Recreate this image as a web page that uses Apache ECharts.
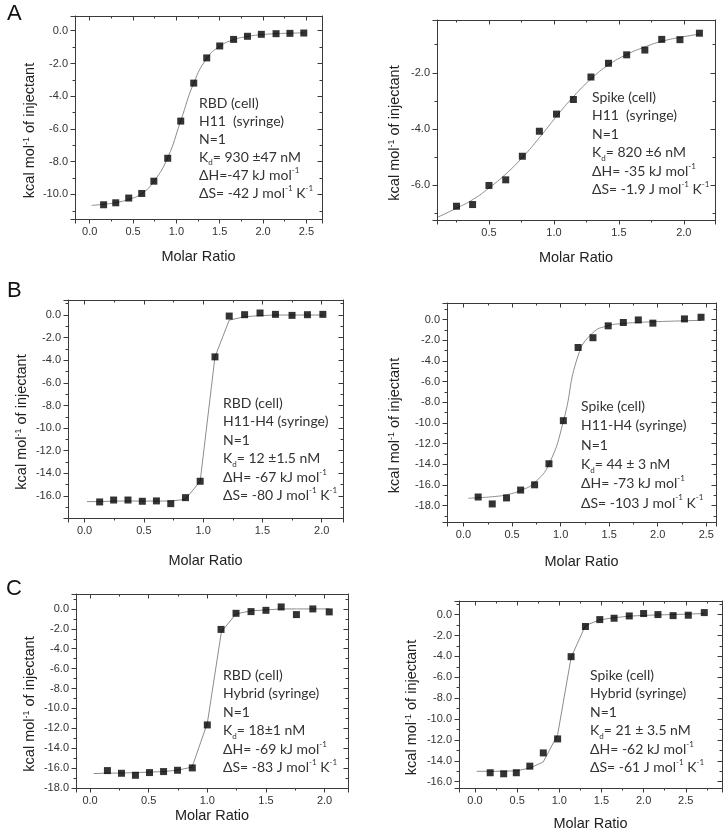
<!DOCTYPE html>
<html>
<head>
<meta charset="utf-8">
<script src="https://cdn.jsdelivr.net/npm/echarts@6/dist/echarts.min.js"></script>
<style>
  html, body { margin: 0; background: #fff; }
  #chart { width: 724px; height: 832px; }
</style>
</head>
<body>
<div id="chart"></div>
<script>
// ---- A 左: RBD (cell) / H11 (syringe) ----
const aLeftX = [0.16, 0.30, 0.45, 0.60, 0.74, 0.90, 1.05, 1.20, 1.35, 1.50, 1.66, 1.82, 1.98, 2.15, 2.31, 2.47]
const aLeftY = [-10.63, -10.51, -10.22, -9.94, -9.19, -7.79, -5.52, -3.20, -1.66, -0.93, -0.53, -0.34, -0.22, -0.18, -0.16, -0.14]
const aLeftFitX = [0.02, 0.16, 0.30, 0.45, 0.60, 0.74, 0.90, 1.05, 1.20, 1.35, 1.50, 1.66, 1.82, 1.98, 2.15, 2.31, 2.47]
const aLeftFitY = [-10.67, -10.6, -10.5, -10.3, -9.95, -9.2, -7.75, -5.5, -3.2, -1.7, -0.95, -0.55, -0.35, -0.24, -0.18, -0.15, -0.13]
const aLeftXRange = [-0.17, 2.68]
const aLeftYRange = [-11.5, 0.9]

// ---- A 右: Spike (cell) / H11 (syringe) ----
const aRightX = [0.25, 0.374, 0.50, 0.629, 0.757, 0.888, 1.02, 1.15, 1.285, 1.42, 1.56, 1.70, 1.83, 1.97, 2.12]
const aRightY = [-6.75, -6.69, -6.01, -5.81, -4.97, -4.08, -3.47, -2.95, -2.15, -1.66, -1.36, -1.19, -0.81, -0.82, -0.59]
const aRightFitX = [0.10, 0.25, 0.38, 0.50, 0.63, 0.76, 0.89, 1.02, 1.15, 1.29, 1.42, 1.56, 1.70, 1.83, 1.97, 2.12]
const aRightFitY = [-7.15, -6.82, -6.5, -6.1, -5.6, -5.0, -4.3, -3.55, -2.85, -2.2, -1.72, -1.35, -1.08, -0.88, -0.74, -0.62]
const aRightXRange = [0.10, 2.24]
const aRightYRange = [-7.24, -0.12]

// ---- B 左: RBD (cell) / H11-H4 (syringe) ----
const bLeftX = [0.127, 0.245, 0.366, 0.487, 0.606, 0.727, 0.851, 0.975, 1.10, 1.22, 1.35, 1.48, 1.61, 1.75, 1.88, 2.01]
const bLeftY = [-16.53, -16.36, -16.36, -16.47, -16.44, -16.68, -16.15, -14.70, -3.70, -0.09, 0.03, 0.18, 0.06, -0.03, 0.03, 0.06]
const bLeftFitX = [0.02, 0.13, 0.25, 0.37, 0.49, 0.61, 0.73, 0.85, 0.975, 1.10, 1.22, 1.35, 1.48, 1.61, 1.75, 1.88, 2.01]
const bLeftFitY = [-16.5, -16.5, -16.45, -16.45, -16.45, -16.45, -16.45, -16.3, -14.7, -3.7, -0.45, -0.15, -0.05, 0.0, 0.0, 0.0, 0.0]
const bLeftXRange = [-0.14, 2.18]
const bLeftYRange = [-17.95, 1.33]

// ---- B 右: Spike (cell) / H11-H4 (syringe) ----
const bRightX = [0.151, 0.296, 0.443, 0.588, 0.732, 0.88, 1.028, 1.18, 1.333, 1.49, 1.646, 1.80, 1.95, 2.275, 2.446]
const bRightY = [-17.18, -17.85, -17.27, -16.51, -16.0, -13.96, -9.79, -2.71, -1.76, -0.61, -0.29, -0.04, -0.35, 0.06, 0.22]
const bRightFitX = [0.05, 0.15, 0.30, 0.45, 0.60, 0.73, 0.88, 1.03, 1.18, 1.33, 1.49, 1.65, 1.80, 1.95, 2.28, 2.45]
const bRightFitY = [-17.3, -17.25, -17.15, -16.95, -16.5, -15.8, -14.0, -9.8, -3.5, -1.3, -0.6, -0.38, -0.28, -0.22, -0.12, -0.08]
const bRightXRange = [-0.17, 2.6]
const bRightYRange = [-19.6, 1.6]

// ---- C 左: RBD (cell) / Hybrid (syringe) ----
const cLeftX = [0.148, 0.268, 0.387, 0.507, 0.627, 0.746, 0.872, 1.0, 1.117, 1.245, 1.373, 1.50, 1.63, 1.76, 1.90, 2.04]
const cLeftY = [-16.25, -16.52, -16.72, -16.45, -16.35, -16.22, -15.98, -11.66, -2.06, -0.44, -0.27, -0.14, 0.20, -0.57, 0.0, -0.30]
const cLeftFitX = [0.03, 0.15, 0.27, 0.39, 0.51, 0.63, 0.75, 0.87, 1.0, 1.12, 1.245, 1.37, 1.50, 1.63, 1.76, 1.90, 2.04]
const cLeftFitY = [-16.55, -16.5, -16.5, -16.45, -16.4, -16.35, -16.2, -15.9, -11.5, -2.3, -0.5, -0.2, -0.1, 0.0, 0.0, 0.0, 0.0]
const cLeftXRange = [-0.12, 2.20]
const cLeftYRange = [-18, 1.5]

// ---- C 右: Spike (cell) / Hybrid (syringe) ----
const cRightX = [0.18, 0.34, 0.49, 0.65, 0.81, 0.98, 1.14, 1.31, 1.48, 1.65, 1.83, 2.0, 2.17, 2.35, 2.53, 2.72]
const cRightY = [-15.14, -15.24, -15.14, -14.51, -13.24, -11.90, -4.03, -1.14, -0.48, -0.35, -0.13, 0.10, 0.0, -0.10, -0.06, 0.19]
const cRightFitX = [0.02, 0.18, 0.34, 0.49, 0.65, 0.81, 0.98, 1.14, 1.31, 1.48, 1.65, 1.83, 2.0, 2.17, 2.35, 2.53, 2.72]
const cRightFitY = [-15.0, -15.0, -15.0, -14.95, -14.7, -14.1, -11.5, -4.1, -1.05, -0.5, -0.3, -0.15, -0.08, -0.03, 0.0, 0.05, 0.1]
const cRightXRange = [-0.19, 2.93]
const cRightYRange = [-16.6, 1.3]

// 注释文字 (rich: sub / sup)
const aLeftText = ['RBD (cell)', 'H11  (syringe)', 'N=1', 'K{sub|d}= 930 ±47 nM', 'ΔH=-47 kJ mol{sup|-1}', 'ΔS= -42 J mol{sup|-1} K{sup|-1}']
const aRightText = ['Spike (cell)', 'H11  (syringe)', 'N=1', 'K{sub|d}= 820 ±6 nM', 'ΔH= -35 kJ mol{sup|-1}', 'ΔS= -1.9 J mol{sup|-1} K{sup|-1}']
const bLeftText = ['RBD (cell)', 'H11-H4 (syringe)', 'N=1', 'K{sub|d}= 12 ±1.5 nM', 'ΔH= -67 kJ mol{sup|-1}', 'ΔS= -80 J mol{sup|-1} K{sup|-1}']
const bRightText = ['Spike (cell)', 'H11-H4 (syringe)', 'N=1', 'K{sub|d}= 44 ± 3 nM', 'ΔH= -73 kJ mol{sup|-1}', 'ΔS= -103 J mol{sup|-1} K{sup|-1}']
const cLeftText = ['RBD (cell)', 'Hybrid (syringe)', 'N=1', 'K{sub|d}= 18±1 nM', 'ΔH= -69 kJ mol{sup|-1}', 'ΔS= -83 J mol{sup|-1} K{sup|-1}']
const cRightText = ['Spike (cell)', 'Hybrid (syringe)', 'N=1', 'K{sub|d}= 21 ± 3.5 nM', 'ΔH= -62 kJ mol{sup|-1}', 'ΔS= -61 J mol{sup|-1} K{sup|-1}']

const panelLetters = ['A', 'B', 'C']
const xName = 'Molar Ratio'
const yName = 'kcal mol{sup|-1} of injectant'

// 每个面板: 数据 + 版面位置
const panels = [
  { x: aLeftX, y: aLeftY, fx: aLeftFitX, fy: aLeftFitY, xr: aLeftXRange, yr: aLeftYRange, text: aLeftText, smooth: true,
    grid: [75, 16, 247, 203], xGap: 30, yGap: 38, textPos: [199, 94], lh: 18.1, showYMin: false },
  { x: aRightX, y: aRightY, fx: aRightFitX, fy: aRightFitY, xr: aRightXRange, yr: aRightYRange, text: aRightText, smooth: true,
    grid: [437, 20, 278, 200], xGap: 30, yGap: 35, textPos: [592, 88], lh: 18.5, showYMin: false },
  { x: bLeftX, y: bLeftY, fx: bLeftFitX, fy: bLeftFitY, xr: bLeftXRange, yr: bLeftYRange, text: bLeftText, smooth: false,
    grid: [68, 300, 275, 218], xGap: 35, yGap: 39, textPos: [223, 394], lh: 18.5, showYMin: false },
  { x: bRightX, y: bRightY, fx: bRightFitX, fy: bRightFitY, xr: bRightXRange, yr: bRightYRange, text: bRightText, smooth: true,
    grid: [447, 303, 269, 219], xGap: 32, yGap: 45, textPos: [581, 397], lh: 19.3, showYMin: false },
  { x: cLeftX, y: cLeftY, fx: cLeftFitX, fy: cLeftFitY, xr: cLeftXRange, yr: cLeftYRange, text: cLeftText, smooth: false,
    grid: [76, 594, 272, 194], xGap: 20, yGap: 39, textPos: [223, 666], lh: 18.5, showYMin: true },
  { x: cRightX, y: cRightY, fx: cRightFitX, fy: cRightFitY, xr: cRightXRange, yr: cRightYRange, text: cRightText, smooth: false,
    grid: [459, 601, 263, 187], xGap: 28, yGap: 40, textPos: [590, 666], lh: 18.5, showYMin: false }
]
const letterPos = [[7, 3], [7, 280], [6, 578]]

const frameColor = '#3a3a3a'
const labelFont = 'Liberation Sans'
const noteFont = 'Lato'
const frameZ = 10   // 外框放在最上层, 避免被覆盖

function zip(xs, ys) {
  return xs.map((v, i) => [v, ys[i]])
}

// 每次都新建对象, 不共用
function lineStyle() {
  return { color: frameColor, width: 1 }
}

function makeAxis(p, g, dim, mirror) {
  const range = dim === 'x' ? p.xr : p.yr
  const step = dim === 'x' ? 0.5 : 2
  const axis = {
    type: 'value',
    gridIndex: g,
    position: dim === 'x' ? (mirror ? 'top' : 'bottom') : (mirror ? 'right' : 'left'),
    min: range[0],
    max: range[1],
    minInterval: step,
    maxInterval: step,
    z: frameZ,
    splitLine: { show: false },
    axisLine: { show: true, onZero: false, lineStyle: lineStyle() },
    axisTick: { show: true, inside: mirror, length: 4.5, lineStyle: lineStyle() },
    minorTick: { show: true, splitNumber: 2, length: 2.5, lineStyle: lineStyle() }
  }
  if (mirror) {
    // 对面的镜像坐标轴: 刻度朝内, 无标签
    axis.axisLabel = { show: false }
    return axis
  }
  axis.name = dim === 'x' ? xName : yName
  axis.nameLocation = 'middle'
  axis.nameGap = dim === 'x' ? p.xGap : p.yGap
  axis.nameTextStyle = dim === 'x'
    ? { fontFamily: labelFont, fontSize: 14.5, color: '#222' }
    : { fontFamily: labelFont, fontSize: 14.5, color: '#222', padding: [0, 26, 0, 0],
        rich: { sup: { fontFamily: labelFont, fontSize: 9, color: '#222', verticalAlign: 'top' } } }
  axis.axisLabel = {
    margin: 7,
    fontFamily: labelFont,
    fontSize: 11,
    color: '#333',
    showMinLabel: dim === 'y' ? p.showYMin : false,
    showMaxLabel: false,
    formatter: v => v.toFixed(1)
  }
  return axis
}

const grid = [], xAxis = [], yAxis = [], series = [], title = [], graphic = []

panels.forEach((p, g) => {
  const [l, t, w, h] = p.grid
  grid.push({ left: l, top: t, width: w, height: h })
  xAxis.push(makeAxis(p, g, 'x', false), makeAxis(p, g, 'x', true))
  yAxis.push(makeAxis(p, g, 'y', false), makeAxis(p, g, 'y', true))
  // 上边框和右边框 (与 grid 同一矩形, 备用)
  graphic.push({
    type: 'polyline',
    silent: true,
    z: frameZ,
    shape: { points: [[l, t + 0.5], [l + w + 0.5, t + 0.5], [l + w + 0.5, t + h + 1]] },
    style: { fill: null, stroke: frameColor, lineWidth: 1 }
  })
  // 拟合曲线
  series.push({
    type: 'line',
    xAxisIndex: 2 * g + 1,
    yAxisIndex: 2 * g + 1,
    data: zip(p.fx, p.fy),
    smooth: p.smooth,
    showSymbol: false,
    silent: true,
    lineStyle: { color: '#8c8c8c', width: 1 },
    z: 2
  })
  // 数据点
  series.push({
    type: 'scatter',
    xAxisIndex: 2 * g,
    yAxisIndex: 2 * g,
    data: zip(p.x, p.y),
    symbol: 'rect',
    symbolSize: 7,
    itemStyle: { color: '#000' },
    z: 3
  })
  title.push({
    text: p.text.join('\n'),
    left: l > 0 ? p.textPos[0] : 0,
    top: p.textPos[1],
    padding: 0,
    textStyle: {
      fontFamily: noteFont,
      fontSize: 14,
      fontWeight: 'normal',
      color: '#333',
      lineHeight: p.lh,
      rich: {
        sub: { fontFamily: noteFont, fontSize: 8, color: '#333', verticalAlign: 'bottom' },
        sup: { fontFamily: noteFont, fontSize: 8, color: '#333', verticalAlign: 'top' }
      }
    }
  })
})

panelLetters.forEach((t, i) => {
  title.push({
    text: t,
    left: letterPos[i][0],
    top: letterPos[i][1],
    padding: 0,
    textStyle: { fontFamily: labelFont, fontSize: 22, fontWeight: 'normal', color: '#111' }
  })
})

const chart = echarts.init(document.getElementById('chart'))
chart.setOption({
  animation: false,
  title,
  grid,
  xAxis,
  yAxis,
  graphic,
  series
})
</script>
</body>
</html>
